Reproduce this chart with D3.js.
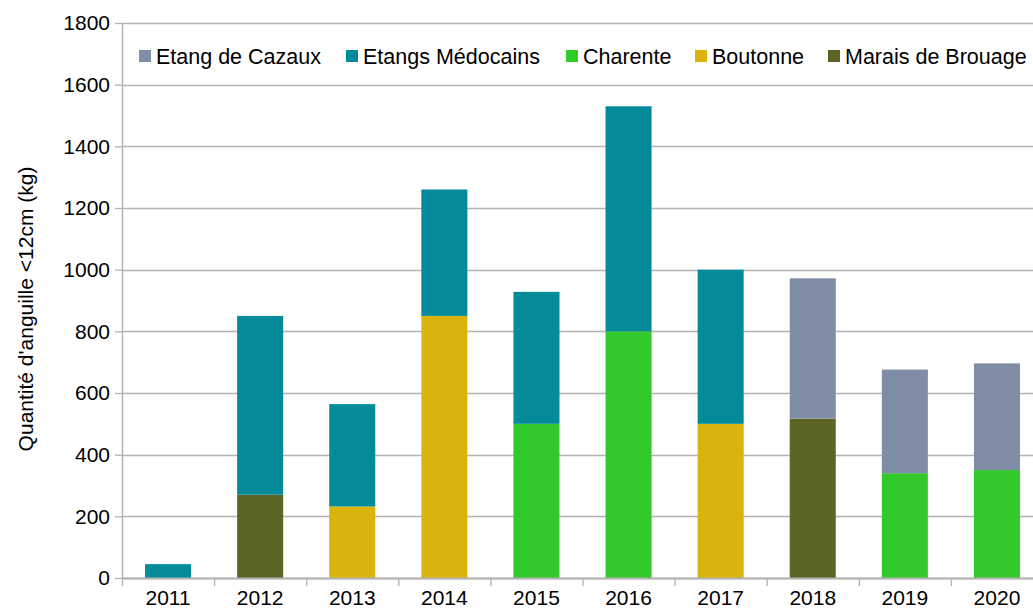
<!DOCTYPE html>
<html>
<head>
<meta charset="utf-8">
<script src="https://cdn.jsdelivr.net/npm/d3@7"></script>
<style>
  html, body { margin: 0; padding: 0; background: #fff; }
  svg { display: block; font-family: "Liberation Sans", Arial, sans-serif; }
</style>
</head>
<body>
<svg id="chart" width="1033" height="610"></svg>
<script>
// Annual quantities of glass eels (< 12 cm, kg) by site
const years = ["2011", "2012", "2013", "2014", "2015", "2016", "2017", "2018", "2019", "2020"];
const seriesNames = ["Etang de Cazaux", "Etangs Médocains", "Charente", "Boutonne", "Marais de Brouage"];
const seriesColors = ["#7f8ea6", "#048b99", "#33c92a", "#d9b40c", "#5b6526"];

const cazaux    = [0, 0, 0, 0, 0, 0, 0, 455, 336, 346];
const medocains = [45, 580, 332, 410, 428, 730, 500, 0, 0, 0];
const charente  = [0, 0, 0, 0, 500, 800, 0, 0, 340, 350];
const boutonne  = [0, 0, 232, 850, 0, 0, 500, 0, 0, 0];
const brouage   = [0, 270, 0, 0, 0, 0, 0, 517, 0, 0];

const yTicks = [0, 200, 400, 600, 800, 1000, 1200, 1400, 1600, 1800];

const seriesValues = [cazaux, medocains, charente, boutonne, brouage];
const rows = years.map((yr, i) => {
  const r = { year: yr };
  seriesNames.forEach((n, k) => { r[n] = seriesValues[k][i]; });
  return r;
});

const svg = d3.select("#chart");
const plotLeft = 122, plotRight = 1043, plotTop = 23, plotBottom = 578;
const fontSize = 21;

const x = d3.scaleBand().domain(years).range([plotLeft, plotRight]).paddingInner(0).paddingOuter(0);
const y = d3.scaleLinear().domain([0, 1800]).range([plotBottom, plotTop]);

// stacked bottom-up: Brouage, Boutonne, Charente, Médocains, Cazaux
const stackKeys = seriesNames.slice().reverse();
const stacked = d3.stack().keys(stackKeys)(rows);
const color = d3.scaleOrdinal().domain(seriesNames).range(seriesColors);

const gridColor = "#b3b3b3";

// horizontal gridlines
svg.append("g")
  .selectAll("line")
  .data(yTicks)
  .join("line")
  .attr("x1", plotLeft).attr("x2", 1033)
  .attr("y1", d => Math.round(y(d)) + 0.5).attr("y2", d => Math.round(y(d)) + 0.5)
  .attr("stroke", gridColor).attr("stroke-width", 1.3);

// bars
const barW = x.bandwidth() * 0.5;
svg.append("g")
  .selectAll("g")
  .data(stacked)
  .join("g")
  .attr("fill", d => color(d.key))
  .selectAll("rect")
  .data(d => d.filter(s => s[1] - s[0] > 0))
  .join("rect")
  .attr("x", d => x(d.data.year) + (x.bandwidth() - barW) / 2)
  .attr("width", barW)
  .attr("y", d => y(d[1]))
  .attr("height", d => y(d[0]) - y(d[1]));

// y axis
const yAxis = svg.append("g")
  .attr("transform", `translate(${plotLeft},0)`)
  .call(d3.axisLeft(y).tickValues(yTicks).tickFormat(d3.format("d"))
    .tickSize(7).tickPadding(5).tickSizeOuter(0));
yAxis.select(".domain").attr("stroke", gridColor).attr("stroke-width", 1.5);
yAxis.selectAll(".tick line").attr("stroke", gridColor).attr("stroke-width", 1.3);
yAxis.selectAll(".tick text")
  .attr("fill", "#000").attr("font-size", fontSize)
  .attr("font-family", "Liberation Sans, Arial, sans-serif");

// x axis
const xAxis = svg.append("g")
  .attr("transform", `translate(0,${plotBottom})`)
  .call(d3.axisBottom(x).tickSize(0).tickPadding(12).tickSizeOuter(0));
xAxis.select(".domain").attr("stroke", gridColor).attr("stroke-width", 2);
xAxis.selectAll(".tick text")
  .attr("fill", "#000").attr("font-size", fontSize)
  .attr("font-family", "Liberation Sans, Arial, sans-serif");
// category separator ticks
svg.append("g")
  .selectAll("line")
  .data(years)
  .join("line")
  .attr("x1", d => x(d) + 0.5).attr("x2", d => x(d) + 0.5)
  .attr("y1", plotBottom).attr("y2", plotBottom + 8)
  .attr("stroke", gridColor).attr("stroke-width", 1.3);

// y axis title
svg.append("text")
  .attr("transform", "translate(33,309) rotate(-90)")
  .attr("text-anchor", "middle")
  .attr("font-size", 21)
  .attr("fill", "#000")
  .text("Quantité d'anguille <12cm (kg)");

// legend
const legendX = [139, 346, 566, 695, 828];
const legend = svg.append("g");
seriesNames.forEach((n, i) => {
  const g = legend.append("g").attr("transform", `translate(${legendX[i]},50)`);
  g.append("rect").attr("width", 12).attr("height", 12).attr("fill", seriesColors[i]);
  g.append("text").attr("x", 17).attr("y", 13.5)
    .attr("font-size", 21.5).attr("fill", "#000").text(n);
});
</script>
</body>
</html>
